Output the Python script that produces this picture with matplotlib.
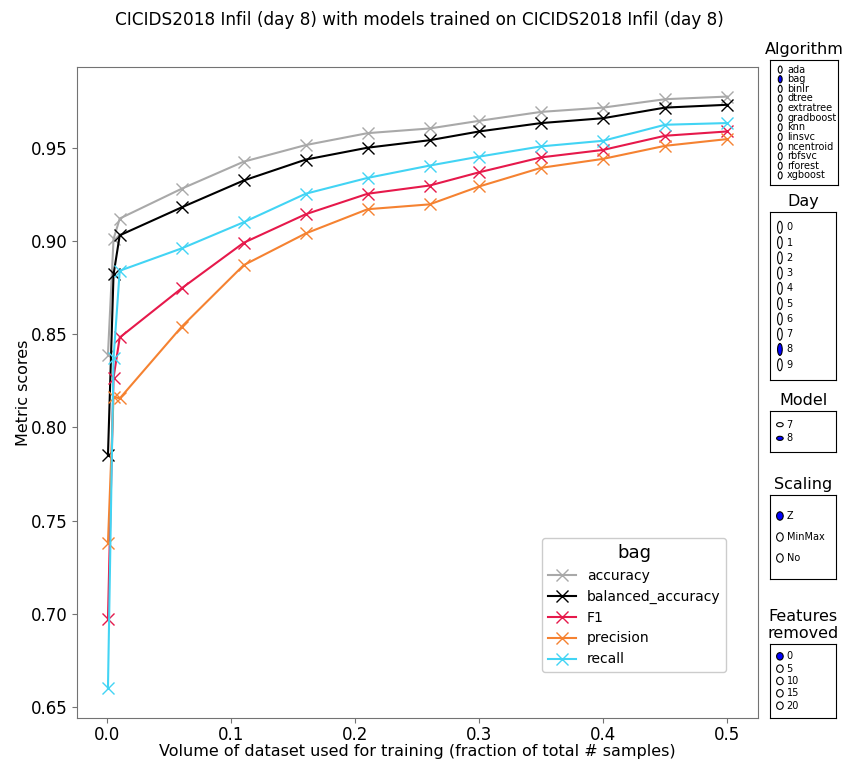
import matplotlib
matplotlib.use("Agg")
import matplotlib.pyplot as plt
from matplotlib.patches import Circle

# ---------------- data ----------------
fractions = [0.0005, 0.005, 0.01, 0.06, 0.11, 0.16, 0.21, 0.26, 0.30, 0.35, 0.40, 0.45, 0.50]
accuracy = [0.839, 0.901, 0.912, 0.928, 0.9425, 0.9514, 0.9578, 0.9603, 0.9644, 0.9692, 0.9715, 0.976, 0.9774]
balanced_accuracy = [0.785, 0.882, 0.903, 0.918, 0.9324, 0.9436, 0.950, 0.954, 0.9587, 0.9632, 0.9658, 0.9715, 0.973]
f1 = [0.697, 0.8266, 0.8482, 0.8746, 0.899, 0.9143, 0.9253, 0.9297, 0.9368, 0.9448, 0.9488, 0.9564, 0.9587]
precision = [0.738, 0.8165, 0.8155, 0.854, 0.887, 0.904, 0.917, 0.9196, 0.9292, 0.9392, 0.944, 0.951, 0.9546]
recall = [0.660, 0.837, 0.884, 0.896, 0.910, 0.9253, 0.9338, 0.9404, 0.9452, 0.9507, 0.9537, 0.9623, 0.9632]

series_names = ["accuracy", "balanced_accuracy", "F1", "precision", "recall"]
series_values = [accuracy, balanced_accuracy, f1, precision, recall]
series_colors = ["#a9a9a9", "#000000", "#e6194b", "#f58231", "#42d4f4"]

algorithms = ["ada", "bag", "binlr", "dtree", "extratree", "gradboost", "knn",
              "linsvc", "ncentroid", "rbfsvc", "rforest", "xgboost"]
days = ["0", "1", "2", "3", "4", "5", "6", "7", "8", "9"]
models = ["7", "8"]
scalings = ["Z", "MinMax", "No"]
features_removed = ["0", "5", "10", "15", "20"]

title = "CICIDS2018 Infil (day 8) with models trained on CICIDS2018 Infil (day 8)"

# ---------------- figure ----------------
W, H = 847, 760
fig = plt.figure(figsize=(W / 100, H / 100), dpi=100)


def rect(x0, y0, x1, y1):
    return [x0 / W, 1 - y1 / H, (x1 - x0) / W, (y1 - y0) / H]


ax = fig.add_axes(rect(77, 67, 758, 718))
for name, vals, col in zip(series_names, series_values, series_colors):
    ax.plot(fractions, vals, color=col, marker="x", markersize=8.5,
            markeredgewidth=1.0, linewidth=1.5, label=name)

for sp in ax.spines.values():
    sp.set_color("0.45")
ax.tick_params(axis="both", colors="0.45", labelcolor="black", labelsize=12)
ax.tick_params(axis="x", pad=2)
ax.set_xlabel("Volume of dataset used for training (fraction of total # samples)",
              fontsize=11.5, labelpad=0)
ax.set_ylabel("Metric scores", fontsize=11.5, labelpad=0)
leg = ax.legend(title="bag", loc="lower right", bbox_to_anchor=(0.963, 0.060),
                fontsize=10, title_fontsize=13, framealpha=1.0)
fig.suptitle(title, fontsize=12.2, x=0.495, y=0.985)


# ---------------- radio panels ----------------
def radio_panel(box, labels, active, ptitle, fsize=7):
    rax = fig.add_axes(rect(*box))
    rax.set_xlim(0, 1)
    rax.set_ylim(0, 1)
    rax.set_xticks([])
    rax.set_yticks([])
    n = len(labels)
    dy = 1.0 / (n + 1)
    r = min(0.05, dy / 2 - 0.01)
    for i, lab in enumerate(labels):
        y = 1 - dy * (i + 1)
        fc = "blue" if lab == active else "white"
        rax.add_patch(Circle((0.15, y), r, transform=rax.transAxes,
                             facecolor=fc, edgecolor="black", linewidth=0.8))
        rax.text(0.25, y, lab, transform=rax.transAxes, fontsize=fsize,
                 va="center", ha="left")
    rax.set_title(ptitle, fontsize=11.5, pad=4)
    return rax


radio_panel((770, 60, 838, 185), algorithms, "bag", "Algorithm", 7)
radio_panel((770, 212, 836, 380), days, "8", "Day", 7)
radio_panel((770, 411, 836, 452), models, "8", "Model", 7)
radio_panel((770, 495, 836, 579), scalings, "Z", "Scaling", 7)
radio_panel((770, 644, 836, 718), features_removed, "0", "Features\nremoved", 7)

fig.savefig("out.png", dpi=100)
